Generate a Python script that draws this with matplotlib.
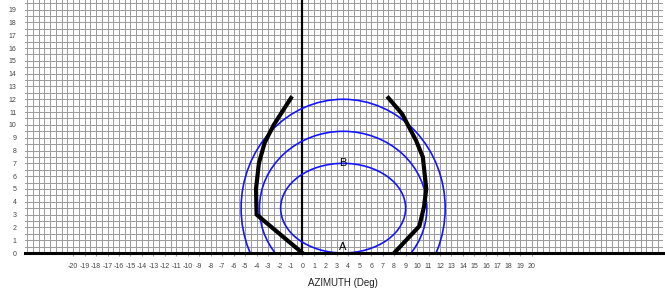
import numpy as np
import matplotlib.pyplot as plt
from matplotlib.patches import Ellipse

# blue contours: centre x, centre y, half width, half height
ell_cx = [3.55, 3.55, 3.55]
ell_cy = [3.5, 3.5, 3.5]
ell_a = [5.45, 7.3, 8.9]
ell_b = [3.5, 6.0, 8.5]

# thick black boundary lines
left_x = [0.0, -4.0, -4.05, -3.8, -3.3, -2.5, -1.0]
left_y = [0.0, 3.0, 5.0, 7.0, 8.6, 10.0, 12.1]
right_x = [8.0, 10.2, 10.6, 10.8, 10.5, 9.9, 8.7, 7.5]
right_y = [0.0, 2.1, 3.6, 5.0, 7.5, 8.8, 10.85, 12.1]

# point labels
lbl_text = ['A', 'B']
lbl_x = [3.55, 3.55]
lbl_y = [0.45, 7.0]

x_ticks = list(range(-20, 21))
y_ticks = list(range(0, 20))

fig = plt.figure(figsize=(6.65, 2.93), dpi=100)
ax = fig.add_axes([0.0376, 0.1365, 0.9594, 0.8635])

ax.set_xlim(-24.2, 31.45)
ax.set_ylim(0, 19.75)

# fine grid every half degree
for gx in np.arange(-24.0, 31.5, 0.5):
    ax.axvline(gx, color='#9a9a9a', lw=0.7, zorder=0)
for gy in np.arange(0.5, 20.0, 0.5):
    ax.axhline(gy, color='#9a9a9a', lw=0.7, zorder=0)

ax.axvline(0, color='black', lw=1.6, zorder=2)

for cx, cy, a, b in zip(ell_cx, ell_cy, ell_a, ell_b):
    ax.add_patch(Ellipse((cx, cy), 2 * a, 2 * b, fill=False,
                         edgecolor='#1414ff', lw=1.2, zorder=3))

ax.plot(left_x, left_y, color='black', lw=3, zorder=4, solid_joinstyle='miter')
ax.plot(right_x, right_y, color='black', lw=3, zorder=4, solid_joinstyle='miter')

for t, x, y in zip(lbl_text, lbl_x, lbl_y):
    ax.text(x, y, t, ha='center', va='center', fontsize=8,
            family='Liberation Sans', zorder=5)

ax.set_xticks(x_ticks)
ax.set_xticklabels([str(v) for v in x_ticks], fontsize=5, color='#444444',
                   family='Liberation Sans')
ax.set_yticks(y_ticks)
ax.set_yticklabels([str(v) for v in y_ticks], fontsize=5, color='#444444',
                   family='Liberation Sans')
ax.tick_params(axis='x', length=2, color='#999999', pad=5)
ax.tick_params(axis='y', length=0, pad=6)

for s in ['top', 'right', 'left']:
    ax.spines[s].set_visible(False)
ax.spines['bottom'].set_linewidth(2.2)
ax.spines['bottom'].set_color('black')
ax.spines['bottom'].set_zorder(6)

ax.set_xlabel('AZIMUTH (Deg)', fontsize=7, family='Liberation Sans',
              color='#222222', va='center')
ax.xaxis.set_label_coords(0.498, -0.119)

fig.savefig('out.png', dpi=100)
